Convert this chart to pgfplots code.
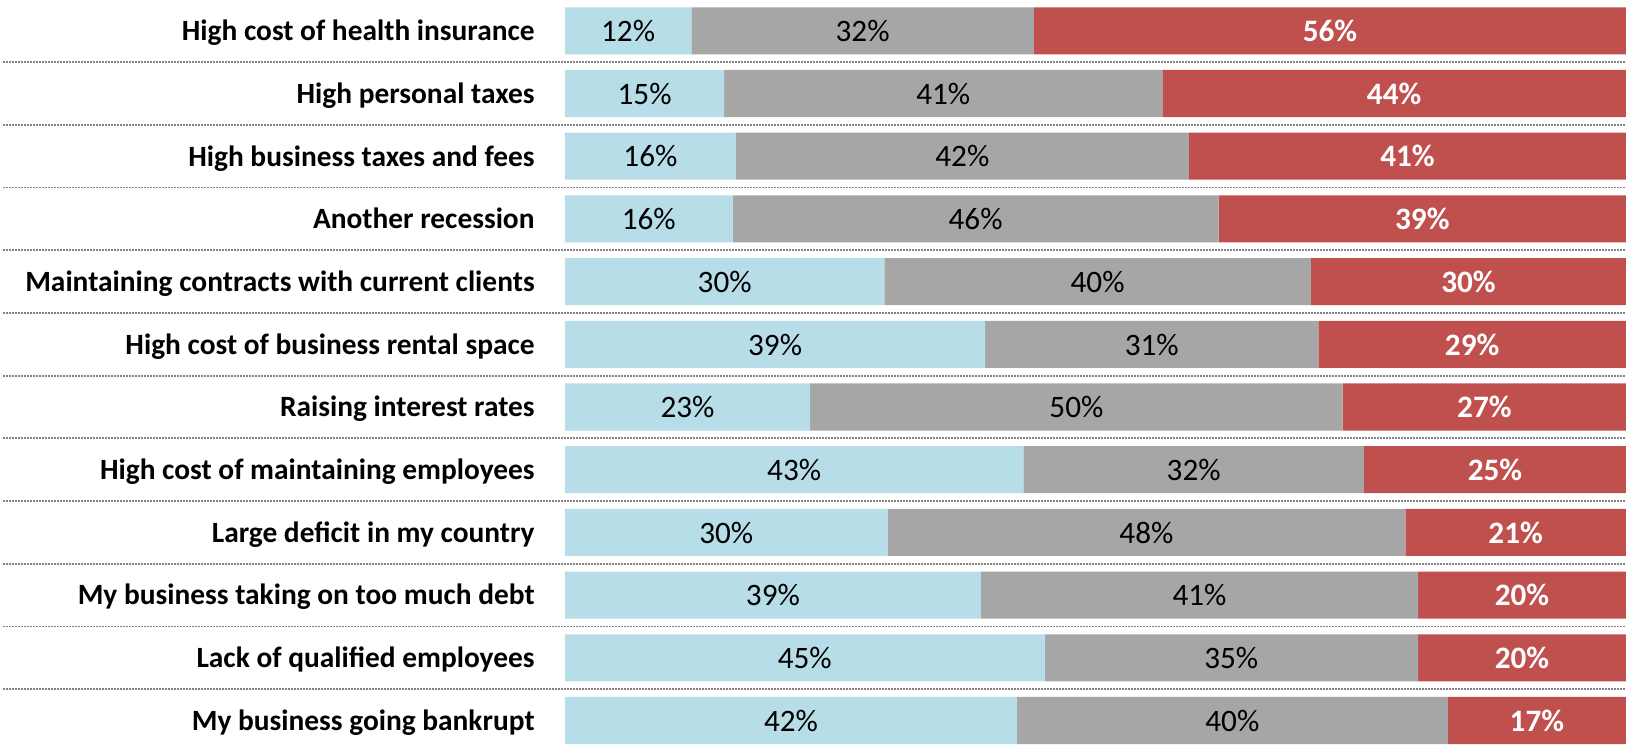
\documentclass[border=0pt]{standalone}
\usepackage{pgfplots}
\pgfplotsset{compat=1.18}
\usepackage{pgfplotstable}
\usepackage{fontspec}
\setmainfont{Carlito}
\definecolor{cblue}{HTML}{B7DDE8}
\definecolor{cgray}{HTML}{A6A6A6}
\definecolor{cred}{HTML}{C0504D}
\definecolor{cdot}{RGB}{130,130,130}

\pgfplotstableread{
y b g r
0 11.9 32.3 55.8
1 15.0 41.3 43.7
2 16.1 42.7 41.2
3 15.8 45.8 38.4
4 30.1 40.2 29.7
5 39.6 31.4 29.0
6 23.1 50.2 26.7
7 43.2 32.1 24.7
8 30.4 48.8 20.8
9 39.2 41.2 19.6
10 45.2 35.2 19.6
11 42.6 40.6 16.8
}\datatable

\pgfplotstableread{
y bm bl gm gl rm rl
0 5.95 12 28.05 32 72.1 56
1 7.5 15 35.65 41 78.15 44
2 8.05 16 37.45 42 79.4 41
3 7.9 16 38.7 46 80.8 39
4 15.05 30 50.2 40 85.15 30
5 19.8 39 55.3 31 85.5 29
6 11.55 23 48.2 50 86.65 27
7 21.6 43 59.25 32 87.65 25
8 15.2 30 54.8 48 89.6 21
9 19.6 39 59.8 41 90.2 20
10 22.6 45 62.8 35 90.2 20
11 21.3 42 62.9 40 91.6 17
}\labeltable

\tikzset{numlab/.style={anchor=base, yshift=-5.4pt, inner sep=0pt, font=\fontsize{15.6}{18}\selectfont, text=black}}

\begin{document}
\begin{tikzpicture}
\pgfplotsset{
  base/.style={
    scale only axis, width=530.5pt, height=372pt,
    xmin=0, xmax=100, ymin=-0.491, ymax=11.375, y dir=reverse,
    anchor=south west, at={(0,0)},
  },
}
\begin{axis}[base,
  xbar stacked, bar width=0.75,
  axis line style={draw=none},
  xtick=\empty,
  ytick={0,...,11},
  yticklabels={High cost of health insurance,High personal taxes,High business taxes and fees,Another recession,Maintaining contracts with current clients,High cost of business rental space,Raising interest rates,High cost of maintaining employees,Large deficit in my country,My business taking on too much debt,Lack of qualified employees,My business going bankrupt},
  yticklabel style={font=\fontsize{14.7}{17}\selectfont\bfseries, inner sep=0pt, xshift=-15pt, yshift=-4.95pt, anchor=base east},
  major tick length=0pt,
  clip=false,
]
\pgfplotsinvokeforeach{0.5,1.5,...,10.5}{
  \draw[cdot, line width=0.9pt, dash pattern=on 0.9pt off 0.6pt] (axis cs:-52.97,#1) -- (axis cs:100,#1);
}
\addplot[fill=cblue, draw=none] table[x=b, y=y] {\datatable};
\addplot[fill=cgray, draw=none] table[x=g, y=y] {\datatable};
\addplot[fill=cred, draw=none] table[x=r, y=y] {\datatable};
\end{axis}
\begin{axis}[base, hide axis, clip=false]
\addplot[only marks, mark=none, nodes near coords={\pgfplotspointmeta\%}, point meta=explicit symbolic,
  every node near coord/.style={numlab}]
  table[x=bm, y=y, meta=bl] {\labeltable};
\addplot[only marks, mark=none, nodes near coords={\pgfplotspointmeta\%}, point meta=explicit symbolic,
  every node near coord/.style={numlab}]
  table[x=gm, y=y, meta=gl] {\labeltable};
\addplot[only marks, mark=none, nodes near coords={\pgfplotspointmeta\%}, point meta=explicit symbolic,
  every node near coord/.style={numlab, font=\fontsize{15.6}{18}\selectfont\bfseries, text=white}]
  table[x=rm, y=y, meta=rl] {\labeltable};
\end{axis}
\pgfresetboundingbox
\useasboundingbox (-282.5pt,0) rectangle (530.5pt,372pt);
\end{tikzpicture}
\end{document}
